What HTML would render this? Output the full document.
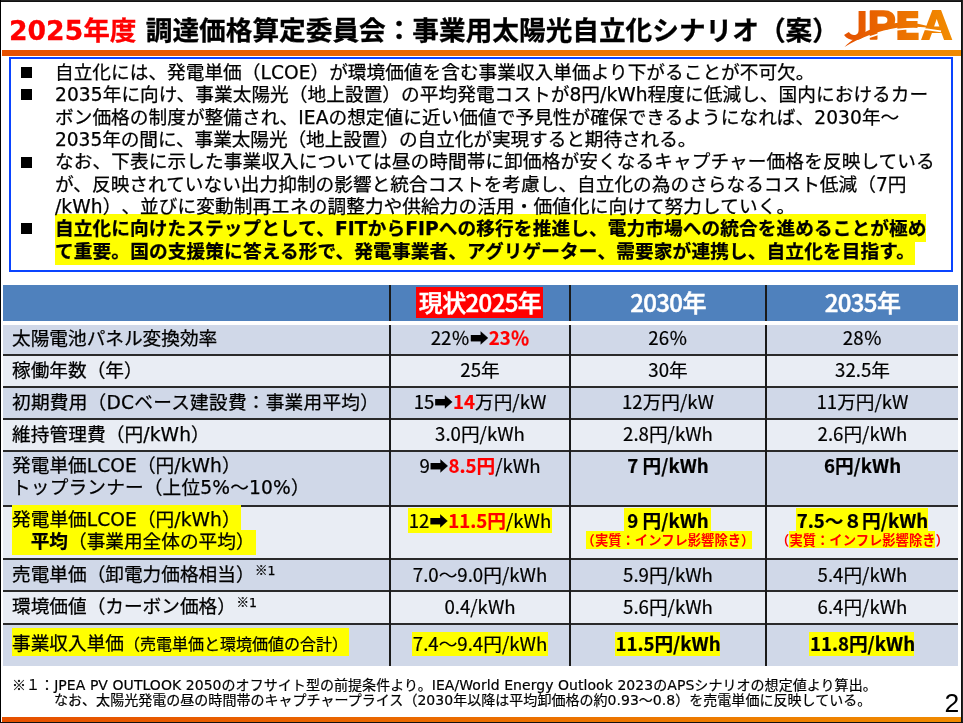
<!DOCTYPE html>
<html lang="ja"><head><meta charset="utf-8">
<style>
*{margin:0;padding:0;box-sizing:border-box}
html,body{width:963px;height:723px;overflow:hidden;background:#fff}
body{position:relative;font-family:'DejaVu Sans','Noto Sans CJK JP',sans-serif;color:#000;text-spacing-trim:space-all}
.a{position:absolute;white-space:nowrap}
.A{font-family:'DejaVu Sans','Noto Sans CJK JP',sans-serif;font-size:18.67px;line-height:22px;-webkit-text-stroke:0.25px currentColor}
.B{font-family:'Noto Sans CJK JP','Liberation Sans',sans-serif;font-size:18.67px;line-height:22px;-webkit-text-stroke:0.2px currentColor}
.b{font-weight:bold}
.red{color:#ff0000;font-weight:bold}
.y{position:absolute;background:#ffff00}
.row{position:absolute;left:3px;width:955px}
.dk{background:#d0d8e8}.lt{background:#e9edf4}
.hl{position:absolute;left:3px;width:955px;height:2px;background:#2a2a2a}
.vl{position:absolute;width:2px;background:#1a1a1a}
.c{text-align:center}
</style></head><body>

<div class="a" style="left:0;top:0;width:963px;height:1px;background:#232323"></div>
<div class="a" style="left:0;top:1px;width:963px;height:1px;background:#111"></div>
<div class="a" style="left:0;top:0;width:1px;height:723px;background:#000"></div>
<div class="a" style="left:961px;top:0;width:1px;height:723px;background:#111"></div>
<div class="a" style="left:962px;top:0;width:1px;height:723px;background:#232323"></div>
<div class="a" style="left:0;top:722px;width:963px;height:1px;background:#111"></div>
<div class="a b" style="left:9px;top:11px;font-family:'DejaVu Sans','Noto Sans CJK JP',sans-serif;font-size:26.67px;line-height:40px;-webkit-text-stroke:0.3px currentColor"><span style="color:#ff0000">2025年度</span> 調達価格算定委員会：事業用太陽光自立化シナリオ（案）</div>
<div class="a" style="left:2px;top:50px;width:959px;height:6px;background:linear-gradient(to right,#e65000,#f08a00)"></div>
<div class="a" style="left:2px;top:717px;width:959px;height:5px;background:linear-gradient(to right,#e65000,#f08a00)"></div>
<div class="a" style="left:9px;top:57px;width:944px;height:215px;border:2px solid #0a44ff"></div>
<div class="a" style="left:21px;top:66.7px;width:11px;height:11px;background:#000"></div>
<div class="a" style="left:21px;top:88.7px;width:11px;height:11px;background:#000"></div>
<div class="a" style="left:21px;top:156.5px;width:11px;height:11px;background:#000"></div>
<div class="a" style="left:21px;top:223.3px;width:11px;height:11px;background:#000"></div>
<div class="y" style="left:55px;top:214px;width:871px;height:28px"></div>
<div class="y" style="left:55px;top:242px;width:860px;height:22.5px"></div>
<div class="a A" style="left:55px;top:62.00px;letter-spacing:0.024px">自立化には、発電単価（LCOE）が環境価値を含む事業収入単価より下がることが不可欠。</div>
<div class="a A" style="left:55px;top:84.33px;letter-spacing:0.051px">2035年に向け、事業太陽光（地上設置）の平均発電コストが8円/kWh程度に低減し、国内におけるカー</div>
<div class="a A" style="left:55px;top:106.67px;letter-spacing:0.043px">ボン価格の制度が整備され、IEAの想定値に近い価値で予見性が確保できるようになれば、2030年～</div>
<div class="a A" style="left:55px;top:129.00px;letter-spacing:-0.071px">2035年の間に、事業太陽光（地上設置）の自立化が実現すると期待される。</div>
<div class="a A" style="left:55px;top:151.33px;letter-spacing:0.1px">なお、下表に示した事業収入については昼の時間帯に卸価格が安くなるキャプチャー価格を反映している</div>
<div class="a A" style="left:55px;top:173.66px;letter-spacing:0.022px">が、反映されていない出力抑制の影響と統合コストを考慮し、自立化の為のさらなるコスト低減（7円</div>
<div class="a A" style="left:55px;top:196.00px;letter-spacing:0.075px">/kWh）、並びに変動制再エネの調整力や供給力の活用・価値化に向けて努力していく。</div>
<div class="a A b" style="left:55px;top:218.33px;letter-spacing:0.104px">自立化に向けたステップとして、FITからFIPへの移行を推進し、電力市場への統合を進めることが極め</div>
<div class="a A b" style="left:55px;top:240.66px;letter-spacing:0.133px">て重要。国の支援策に答える形で、発電事業者、アグリゲーター、需要家が連携し、自立化を目指す。</div>
<div class="a" style="left:3px;top:285px;width:955px;height:36px;background:#4f81bd"></div>
<div class="row dk" style="top:325px;height:30px"></div>
<div class="row lt" style="top:355px;height:32px"></div>
<div class="row dk" style="top:387px;height:32px"></div>
<div class="row lt" style="top:419px;height:32px"></div>
<div class="row dk" style="top:451px;height:55px"></div>
<div class="row lt" style="top:506px;height:53px"></div>
<div class="row dk" style="top:559px;height:32px"></div>
<div class="row lt" style="top:591px;height:33px"></div>
<div class="row dk" style="top:624px;height:42px"></div>
<div class="hl" style="top:354px;height:1.5px"></div>
<div class="hl" style="top:386px;height:1.5px"></div>
<div class="hl" style="top:418px;height:1.5px"></div>
<div class="hl" style="top:450px;height:1.5px"></div>
<div class="hl" style="top:505px;height:1.5px"></div>
<div class="hl" style="top:558px;height:1.5px"></div>
<div class="hl" style="top:590px;height:1.5px"></div>
<div class="hl" style="top:623px;height:1.5px"></div>
<div class="y" style="left:12px;top:505px;width:229px;height:25px"></div>
<div class="y" style="left:12px;top:530px;width:244px;height:24.5px"></div>
<div class="y" style="left:12px;top:628px;width:337px;height:28px"></div>
<div class="y" style="left:408px;top:508px;width:144px;height:24.7px"></div>
<div class="y" style="left:412px;top:632px;width:136px;height:24px"></div>
<div class="y" style="left:624.4px;top:508.2px;width:86.3px;height:23.2px"></div>
<div class="y" style="left:586px;top:531.4px;width:165.6px;height:17.2px"></div>
<div class="y" style="left:614.8px;top:632.4px;width:105.2px;height:24px"></div>
<div class="y" style="left:796px;top:508.2px;width:132px;height:22.5px"></div>
<div class="y" style="left:788.6px;top:531px;width:146.4px;height:17px"></div>
<div class="y" style="left:809.4px;top:632.4px;width:104.9px;height:24px"></div>
<div class="vl" style="left:389px;top:285px;height:36px;width:1.5px"></div>
<div class="vl" style="left:389px;top:325px;height:341px;width:1.5px"></div>
<div class="vl" style="left:569px;top:285px;height:36px;width:1.5px"></div>
<div class="vl" style="left:569px;top:325px;height:341px;width:1.5px"></div>
<div class="vl" style="left:765px;top:285px;height:36px;width:1.5px"></div>
<div class="vl" style="left:765px;top:325px;height:341px;width:1.5px"></div>
<div class="a" style="left:416px;top:287px;width:127px;height:31px;background:#ff0000"></div>
<div class="a c" style="left:391px;top:284px;width:178px;font-family:'Noto Sans CJK JP','Liberation Sans',sans-serif;font-weight:500;font-size:24px;line-height:36px;color:#fff;-webkit-text-stroke:0.5px #fff;letter-spacing:-0.6px">現状2025年</div>
<div class="a c" style="left:571px;top:284px;width:194px;font-family:'Noto Sans CJK JP','Liberation Sans',sans-serif;font-weight:500;font-size:24px;line-height:36px;color:#fff;-webkit-text-stroke:0.5px #fff;letter-spacing:-0.6px">2030年</div>
<div class="a c" style="left:767px;top:284px;width:191px;font-family:'Noto Sans CJK JP','Liberation Sans',sans-serif;font-weight:500;font-size:24px;line-height:36px;color:#fff;-webkit-text-stroke:0.5px #fff;letter-spacing:-0.6px">2035年</div>
<div class="a A" style="left:12px;top:328px;letter-spacing:0px">太陽電池パネル変換効率</div>
<div class="a A" style="left:12px;top:360px;letter-spacing:0px">稼働年数（年）</div>
<div class="a A" style="left:12px;top:392px;letter-spacing:0.24px">初期費用（DCベース建設費：事業用平均）</div>
<div class="a A" style="left:12px;top:424px;letter-spacing:0.1px">維持管理費（円/kWh）</div>
<div class="a A" style="left:12px;top:455px;letter-spacing:0.05px">発電単価LCOE（円/kWh）</div>
<div class="a A" style="left:12px;top:476.5px;letter-spacing:0.17px">トップランナー（上位5%～10%）</div>
<div class="a A" style="left:12px;top:509px;letter-spacing:0.05px">発電単価LCOE（円/kWh）</div>
<div class="a A" style="left:12px;top:531px;letter-spacing:0px">　<b>平均</b>（事業用全体の平均）</div>
<div class="a A" style="left:12px;top:564px;letter-spacing:0px">売電単価（卸電力価格相当）<span style="font-size:12.5px;position:relative;top:-6px;margin-left:0.5px"><span style="font-family:'Noto Sans CJK JP'">※</span>1</span></div>
<div class="a A" style="left:12px;top:596px;letter-spacing:0px">環境価値（カーボン価格）<span style="font-size:12.5px;position:relative;top:-6px;margin-left:0.5px"><span style="font-family:'Noto Sans CJK JP'">※</span>1</span></div>
<div class="a A" style="left:12px;top:633px;letter-spacing:0px">事業収入単価<span style="font-size:16px">（売電単価と環境価値の合計）</span></div>
<div class="a B c" style="left:391px;top:326px;width:178px">22％<span class="b">➡</span><span class="red">23％</span></div>
<div class="a B c" style="left:571px;top:326px;width:194px">26％</div>
<div class="a B c" style="left:767px;top:326px;width:191px">28％</div>
<div class="a B c" style="left:391px;top:358px;width:178px">25年</div>
<div class="a B c" style="left:571px;top:358px;width:194px">30年</div>
<div class="a B c" style="left:767px;top:358px;width:191px">32.5年</div>
<div class="a B c" style="left:391px;top:390px;width:178px">15<span class="b">➡</span><span class="red">14</span>万円/kW</div>
<div class="a B c" style="left:571px;top:390px;width:194px">12万円/kW</div>
<div class="a B c" style="left:767px;top:390px;width:191px">11万円/kW</div>
<div class="a B c" style="left:391px;top:422px;width:178px">3.0円/kWh</div>
<div class="a B c" style="left:571px;top:422px;width:194px">2.8円/kWh</div>
<div class="a B c" style="left:767px;top:422px;width:191px">2.6円/kWh</div>
<div class="a B c" style="left:391px;top:454px;width:178px">9<span class="b">➡</span><span class="red">8.5円</span>/kWh</div>
<div class="a B c b" style="left:571px;top:454px;width:194px">7 円/kWh</div>
<div class="a B c b" style="left:767px;top:454px;width:191px">6円/kWh</div>
<div class="a B c" style="left:391px;top:508.5px;width:178px">12<span class="b">➡</span><span class="red">11.5円</span>/kWh</div>
<div class="a B c b" style="left:571px;top:508.5px;width:194px">9 円/kWh</div>
<div class="a B c b" style="left:767px;top:508.5px;width:191px">7.5～８円/kWh</div>
<div class="a B c" style="left:391px;top:563px;width:178px">7.0～9.0円/kWh</div>
<div class="a B c" style="left:571px;top:563px;width:194px">5.9円/kWh</div>
<div class="a B c" style="left:767px;top:563px;width:191px">5.4円/kWh</div>
<div class="a B c" style="left:391px;top:595px;width:178px">0.4/kWh</div>
<div class="a B c" style="left:571px;top:595px;width:194px">5.6円/kWh</div>
<div class="a B c" style="left:767px;top:595px;width:191px">6.4円/kWh</div>
<div class="a B c" style="left:391px;top:632px;width:178px">7.4～9.4円/kWh</div>
<div class="a B c b" style="left:571px;top:632px;width:194px">11.5円/kWh</div>
<div class="a B c b" style="left:767px;top:632px;width:191px">11.8円/kWh</div>
<div class="a c b" style="left:571px;top:531px;width:194px;font-family:'Noto Sans CJK JP','Liberation Sans',sans-serif;font-size:13.33px;line-height:17px;color:#ff0000">（実質：インフレ影響除き）</div>
<div class="a c b" style="left:767px;top:531px;width:191px;font-family:'Noto Sans CJK JP','Liberation Sans',sans-serif;font-size:13.33px;line-height:17px;color:#ff0000">（実質：インフレ影響除き）</div>
<div class="a" style="left:12px;top:676px;font-family:'DejaVu Sans','Noto Sans CJK JP',sans-serif;font-size:14px;line-height:16px;letter-spacing:0.053px;-webkit-text-stroke:0.2px #000"><span style="font-family:'Noto Sans CJK JP'">※</span>１：JPEA PV OUTLOOK 2050のオフサイト型の前提条件より。IEA/World Energy Outlook 2023のAPSシナリオの想定値より算出。</div>
<div class="a" style="left:54px;top:691.5px;font-family:'DejaVu Sans','Noto Sans CJK JP',sans-serif;font-size:14px;line-height:16px;letter-spacing:0.032px;-webkit-text-stroke:0.2px #000">なお、太陽光発電の昼の時間帯のキャプチャープライス（2030年以降は平均卸価格の約0.93～0.8）を売電単価に反映している。</div>
<div class="a" style="left:944.5px;top:688px;font-family:'Liberation Sans',sans-serif;font-size:26.5px;line-height:30px">2</div>
<svg class="a" style="left:835px;top:4px" width="125" height="48" viewBox="835 4 125 48">
<defs><linearGradient id="lg0" x1="842" y1="0" x2="952" y2="0" gradientUnits="userSpaceOnUse"><stop offset="0" stop-color="#e45000"/><stop offset="1" stop-color="#f28c00"/></linearGradient><linearGradient id="lg1" x1="-0.92" y1="0" x2="90.75" y2="0" gradientUnits="userSpaceOnUse"><stop offset="0" stop-color="#e45000"/><stop offset="1" stop-color="#f28c00"/></linearGradient><linearGradient id="lg2" x1="-24.8" y1="0" x2="80.96" y2="0" gradientUnits="userSpaceOnUse"><stop offset="0" stop-color="#e45000"/><stop offset="1" stop-color="#f28c00"/></linearGradient><linearGradient id="lg3" x1="-75.09" y1="0" x2="28.68" y2="0" gradientUnits="userSpaceOnUse"><stop offset="0" stop-color="#e45000"/><stop offset="1" stop-color="#f28c00"/></linearGradient></defs>
<text transform="translate(843.1,40) scale(1.2,1)" font-family="Noto Sans CJK JP" font-weight="bold" font-size="39.1" fill="url(#lg1)">J</text>
<text transform="translate(867.8,39.4) scale(1.04,1)" font-family="Liberation Sans" font-weight="bold" font-size="40.5" fill="url(#lg2)" stroke="url(#lg2)" stroke-width="1.6" stroke-linejoin="round">P</text>
<text x="894.9" y="39" font-family="DejaVu Sans" font-weight="bold" font-size="37.04" fill="url(#lg0)" stroke="url(#lg0)" stroke-width="2">E</text>
<text transform="translate(921.6,39.3) scale(1.06,1)" font-family="Liberation Sans" font-weight="bold" font-size="39.8" fill="url(#lg3)" stroke="url(#lg3)" stroke-width="2">A</text>
<path d="M844,49.4 C860,39.8 880,32.6 897,29.6 C912,27.8 928,28.8 941,31.4" stroke="#fff" stroke-width="1.7" fill="none"/>
<path d="M844.5,47 C860,37.5 880,30.5 897,27.8 C912,25.8 928,26.8 938.6,29.6 C930,26 918,23 905,22.5 C890,22.3 870,28 858,36 C852,40 848,43.5 844.5,47 Z" fill="url(#lg0)"/>
</svg>
</body></html>
